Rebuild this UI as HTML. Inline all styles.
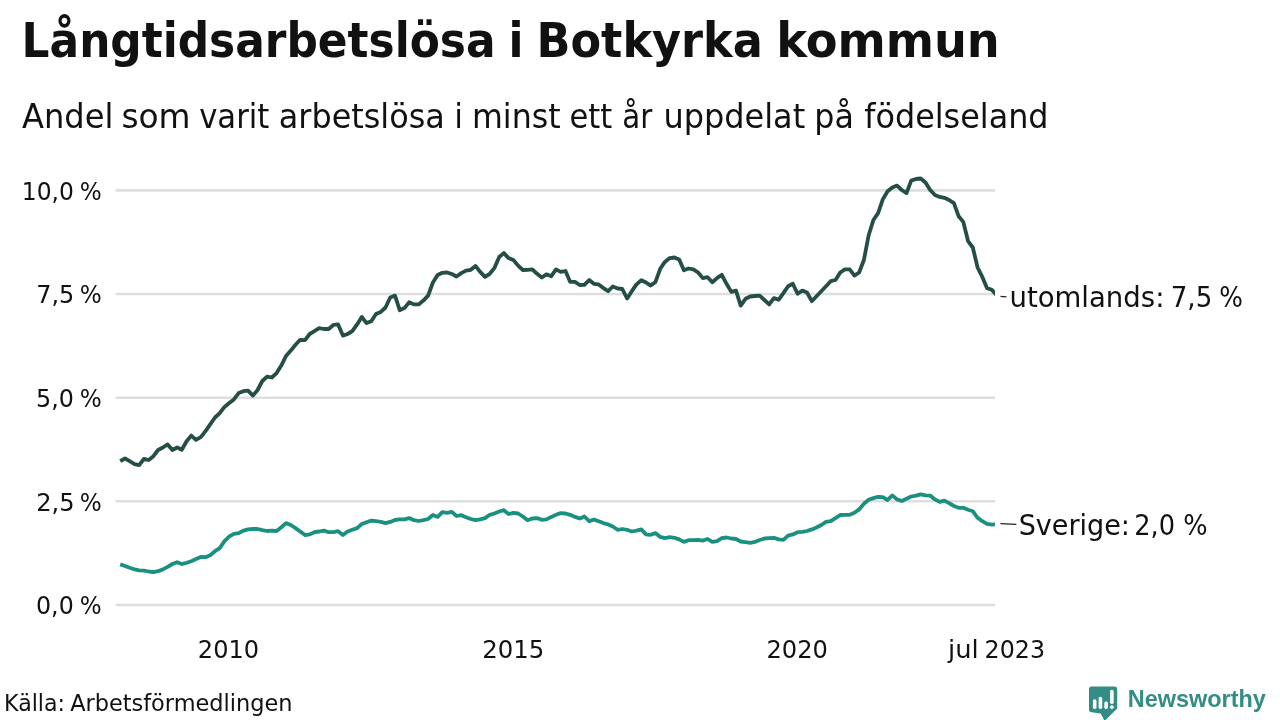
<!DOCTYPE html>
<html lang="sv">
<head>
<meta charset="utf-8">
<title>Långtidsarbetslösa i Botkyrka kommun</title>
<style>
html,body{margin:0;padding:0;background:#fff;}
body{width:1280px;height:720px;overflow:hidden;}
svg{display:block;}
text{font-family:"DejaVu Sans", "Liberation Sans", sans-serif;fill:#111;}
.title{font-family:"DejaVu Sans Condensed", "DejaVu Sans", "Liberation Sans", sans-serif;font-weight:700;font-size:47.5px;}
.sub{font-size:33px;}
.ax{font-size:24px;}
.lab{font-size:28px;}
.src{font-size:23px;}
.logo{font-family:"Liberation Sans", sans-serif;font-weight:700;font-size:24px;fill:#348d84;}
.grid line{stroke:#dedede;stroke-width:2.6;}
</style>
</head>
<body>
<svg width="1280" height="720" viewBox="0 0 1280 720">
<rect width="1280" height="720" fill="#ffffff"/>
<text class="title" y="57"><tspan x="21.64" textLength="473.84" lengthAdjust="spacingAndGlyphs">Långtidsarbetslösa</tspan> <tspan x="508.45" textLength="14.96" lengthAdjust="spacingAndGlyphs">i</tspan> <tspan x="536.56" textLength="226.24" lengthAdjust="spacingAndGlyphs">Botkyrka</tspan> <tspan x="776.25" textLength="223.54" lengthAdjust="spacingAndGlyphs">kommun</tspan></text>
<text class="sub" y="127.5"><tspan x="21.96" textLength="91.42" lengthAdjust="spacingAndGlyphs">Andel</tspan> <tspan x="121.4" textLength="69.2" lengthAdjust="spacingAndGlyphs">som</tspan> <tspan x="199.21" textLength="70.18" lengthAdjust="spacingAndGlyphs">varit</tspan> <tspan x="278.83" textLength="166.0" lengthAdjust="spacingAndGlyphs">arbetslösa</tspan> <tspan x="454.21" textLength="8.72" lengthAdjust="spacingAndGlyphs">i</tspan> <tspan x="471.98" textLength="88.7" lengthAdjust="spacingAndGlyphs">minst</tspan> <tspan x="569.39" textLength="42.76" lengthAdjust="spacingAndGlyphs">ett</tspan> <tspan x="622.19" textLength="30.03" lengthAdjust="spacingAndGlyphs">år</tspan> <tspan x="663.45" textLength="141.8" lengthAdjust="spacingAndGlyphs">uppdelat</tspan> <tspan x="814.22" textLength="39.62" lengthAdjust="spacingAndGlyphs">på</tspan> <tspan x="864.28" textLength="184.31" lengthAdjust="spacingAndGlyphs">födelseland</tspan></text>
<g class="grid">
<line x1="115.6" x2="995" y1="190.4" y2="190.4"/>
<line x1="115.6" x2="995" y1="294" y2="294"/>
<line x1="115.6" x2="995" y1="397.8" y2="397.8"/>
<line x1="115.6" x2="995" y1="501.3" y2="501.3"/>
<line x1="115.6" x2="995" y1="605" y2="605"/>
</g>
<text class="ax" y="199.6"><tspan x="21.84" textLength="52.11" lengthAdjust="spacingAndGlyphs">10,0</tspan> <tspan x="79.69" textLength="21.99" lengthAdjust="spacingAndGlyphs">%</tspan></text>
<text class="ax" y="303.3"><tspan x="36.25" textLength="38.06" lengthAdjust="spacingAndGlyphs">7,5</tspan> <tspan x="79.69" textLength="21.99" lengthAdjust="spacingAndGlyphs">%</tspan></text>
<text class="ax" y="407"><tspan x="36.12" textLength="37.88" lengthAdjust="spacingAndGlyphs">5,0</tspan> <tspan x="79.69" textLength="21.99" lengthAdjust="spacingAndGlyphs">%</tspan></text>
<text class="ax" y="510.6"><tspan x="36.15" textLength="38.38" lengthAdjust="spacingAndGlyphs">2,5</tspan> <tspan x="79.69" textLength="21.99" lengthAdjust="spacingAndGlyphs">%</tspan></text>
<text class="ax" y="613.8"><tspan x="36.04" textLength="37.68" lengthAdjust="spacingAndGlyphs">0,0</tspan> <tspan x="79.81" textLength="21.88" lengthAdjust="spacingAndGlyphs">%</tspan></text>
<text class="ax" y="657.5"><tspan x="197.82" textLength="61.28" lengthAdjust="spacingAndGlyphs">2010</tspan></text>
<text class="ax" y="657.5"><tspan x="482.25" textLength="62.01" lengthAdjust="spacingAndGlyphs">2015</tspan></text>
<text class="ax" y="657.5"><tspan x="766.5" textLength="61.42" lengthAdjust="spacingAndGlyphs">2020</tspan></text>
<text class="ax" y="657.5"><tspan x="948.04" textLength="30.64" lengthAdjust="spacingAndGlyphs">jul</tspan> <tspan x="984.59" textLength="60.42" lengthAdjust="spacingAndGlyphs">2023</tspan></text>
<clipPath id="pc"><rect x="100" y="150" width="895.1" height="480"/></clipPath>
<g clip-path="url(#pc)">
<polyline fill="none" stroke="#1a9080" stroke-width="3.8" stroke-linejoin="round" stroke-linecap="butt" points="120.2,564.4 125.0,566.0 129.7,567.8 134.5,569.4 139.2,570.4 143.9,570.6 148.7,571.5 153.4,572.1 158.1,571.2 162.9,569.4 167.6,566.9 172.4,564.0 177.1,562.2 181.8,564.0 186.6,562.8 191.3,561.2 196.0,559.0 200.8,556.9 205.5,557.2 210.2,555.2 215.0,551.2 219.7,548.1 224.5,541.2 229.2,536.5 233.9,533.8 238.7,533.1 243.4,530.6 248.1,529.4 252.9,529.0 257.6,529.0 262.3,530.2 267.1,531.0 271.8,530.6 276.6,531.0 281.3,527.2 286.0,523.1 290.8,525.0 295.5,528.1 300.2,531.5 305.0,535.0 309.7,534.4 314.4,532.2 319.2,531.5 323.9,530.6 328.7,532.2 333.4,532.2 338.1,531.2 342.9,535.0 347.6,531.5 352.3,529.8 357.1,528.1 361.8,524.0 366.5,522.2 371.3,520.6 376.0,521.2 380.8,521.9 385.5,523.1 390.2,521.9 395.0,520.0 399.7,519.4 404.4,519.4 409.2,518.1 413.9,520.2 418.6,521.0 423.4,520.2 428.1,519.0 432.9,515.0 437.6,516.9 442.3,512.2 447.1,512.8 451.8,511.9 456.5,516.0 461.3,515.2 466.0,517.2 470.8,519.0 475.5,520.2 480.2,519.4 485.0,518.1 489.7,514.8 494.4,513.5 499.2,511.5 503.9,510.2 508.6,514.0 513.4,512.8 518.1,513.5 522.9,516.5 527.6,520.2 532.3,518.5 537.1,518.1 541.8,519.8 546.5,519.4 551.3,516.9 556.0,514.8 560.7,513.1 565.5,513.5 570.2,514.8 575.0,516.9 579.7,518.5 584.4,516.5 589.2,521.2 593.9,519.4 598.6,521.2 603.4,523.1 608.1,524.4 612.8,526.5 617.6,529.8 622.3,529.0 627.1,529.8 631.8,531.5 636.5,530.6 641.3,529.4 646.0,534.4 650.7,534.8 655.5,533.1 660.2,536.9 664.9,538.1 669.7,537.2 674.4,537.8 679.2,539.4 683.9,541.9 688.6,540.2 693.4,540.2 698.1,539.8 702.8,540.6 707.6,539.0 712.3,541.9 717.0,541.2 721.8,538.1 726.5,537.5 731.3,538.5 736.0,539.0 740.7,541.5 745.5,542.2 750.2,542.8 754.9,541.9 759.7,540.0 764.4,538.5 769.2,538.1 773.9,537.8 778.6,539.4 783.4,539.8 788.1,535.6 792.8,534.4 797.6,532.2 802.3,531.9 807.0,531.0 811.8,529.4 816.5,527.5 821.3,525.0 826.0,521.9 830.7,521.2 835.5,518.1 840.2,515.0 844.9,514.8 849.7,514.8 854.4,512.8 859.1,509.4 863.9,503.8 868.6,499.8 873.4,498.1 878.1,496.9 882.8,497.2 887.6,500.0 892.3,495.4 897.0,499.4 901.8,501.0 906.5,498.8 911.2,496.5 916.0,495.6 920.7,494.4 925.5,495.4 930.2,495.6 934.9,499.4 939.7,501.9 944.4,500.6 949.1,503.1 953.9,506.0 958.6,507.8 963.3,507.8 968.1,509.8 972.8,511.2 977.6,517.8 982.3,521.2 987.0,523.8 991.8,524.6 996.5,524.4"/>
<polyline fill="none" stroke="#244e46" stroke-width="3.8" stroke-linejoin="round" stroke-linecap="butt" points="120.2,461.2 125.0,458.5 129.7,461.2 134.5,464.1 139.2,465.2 143.9,458.8 148.7,460.0 153.4,456.2 158.1,450.0 162.9,447.5 167.6,444.4 172.4,450.0 177.1,447.5 181.8,449.8 186.6,441.2 191.3,435.6 196.0,439.8 200.8,437.2 205.5,431.2 210.2,424.4 215.0,417.5 219.7,413.1 224.5,406.9 229.2,403.1 233.9,399.4 238.7,393.1 243.4,391.2 248.1,390.6 252.9,395.6 257.6,390.0 262.3,381.0 267.1,376.6 271.8,377.5 276.6,373.1 281.3,365.6 286.0,356.0 290.8,350.6 295.5,344.8 300.2,339.8 305.0,340.2 309.7,334.0 314.4,331.2 319.2,328.2 323.9,329.0 328.7,329.0 333.4,324.8 338.1,324.4 342.9,335.6 347.6,334.0 352.3,331.2 357.1,324.4 361.8,316.9 366.5,323.1 371.3,321.2 376.0,314.0 380.8,311.9 385.5,307.5 390.2,297.5 395.0,295.6 399.7,310.2 404.4,308.1 409.2,302.2 413.9,304.4 418.6,304.4 423.4,300.6 428.1,295.6 432.9,282.5 437.6,275.0 442.3,272.8 447.1,272.5 451.8,274.0 456.5,276.5 461.3,273.1 466.0,270.6 470.8,269.8 475.5,266.0 480.2,271.9 485.0,276.9 489.7,273.8 494.4,268.1 499.2,256.9 503.9,253.1 508.6,258.1 513.4,260.0 518.1,265.6 522.9,270.0 527.6,269.8 532.3,269.4 537.1,273.8 541.8,277.5 546.5,274.4 551.3,276.2 556.0,269.4 560.7,271.9 565.5,271.0 570.2,281.9 575.0,281.9 579.7,285.0 584.4,284.8 589.2,280.0 593.9,283.8 598.6,284.4 603.4,288.1 608.1,291.2 612.8,286.5 617.6,288.5 622.3,289.0 627.1,298.5 631.8,291.2 636.5,284.4 641.3,280.2 646.0,282.5 650.7,285.6 655.5,281.9 660.2,268.8 664.9,261.9 669.7,258.1 674.4,257.5 679.2,259.4 683.9,270.2 688.6,268.5 693.4,269.4 698.1,272.5 702.8,278.1 707.6,277.2 712.3,282.2 717.0,278.1 721.8,274.8 726.5,283.8 731.3,291.9 736.0,290.6 740.7,305.6 745.5,298.8 750.2,296.5 754.9,296.0 759.7,295.6 764.4,300.0 769.2,304.4 773.9,298.1 778.6,299.8 783.4,293.1 788.1,286.2 792.8,283.8 797.6,293.8 802.3,290.6 807.0,292.5 811.8,301.2 816.5,296.2 821.3,291.2 826.0,286.2 830.7,281.2 835.5,280.0 840.2,272.5 844.9,269.4 849.7,269.4 854.4,275.6 859.1,272.5 863.9,260.0 868.6,235.5 873.4,220.0 878.1,213.1 882.8,199.4 887.6,191.2 892.3,187.5 897.0,185.6 901.8,190.0 906.5,193.1 911.2,180.6 916.0,179.0 920.7,178.5 925.5,182.5 930.2,190.0 934.9,195.0 939.7,196.9 944.4,197.8 949.1,200.0 953.9,203.1 958.6,216.2 963.3,221.9 968.1,241.2 972.8,247.5 977.6,267.5 982.3,276.9 987.0,288.1 991.8,289.8 996.5,295.0"/>
</g>
<line x1="1000.5" y1="296.3" x2="1006.5" y2="296.8" stroke="#222" stroke-width="1.2"/>
<line x1="1000.5" y1="523.6" x2="1016.3" y2="524.4" stroke="#222" stroke-width="1.2"/>
<text class="lab" y="307.2"><tspan x="1009.46" textLength="154.95" lengthAdjust="spacingAndGlyphs">utomlands:</tspan> <tspan x="1170.68" textLength="41.6" lengthAdjust="spacingAndGlyphs">7,5</tspan> <tspan x="1219.32" textLength="23.64" lengthAdjust="spacingAndGlyphs">%</tspan></text>
<text class="lab" y="535"><tspan x="1018.65" textLength="111.32" lengthAdjust="spacingAndGlyphs">Sverige:</tspan> <tspan x="1134.18" textLength="40.79" lengthAdjust="spacingAndGlyphs">2,0</tspan> <tspan x="1183.21" textLength="24.31" lengthAdjust="spacingAndGlyphs">%</tspan></text>
<text class="src" y="710.8"><tspan x="4.08" textLength="60.94" lengthAdjust="spacingAndGlyphs">Källa:</tspan> <tspan x="70.15" textLength="222.35" lengthAdjust="spacingAndGlyphs">Arbetsförmedlingen</tspan></text>
<g>
<path d="M1092 686.4 H1114.4 a2.8 2.8 0 0 1 2.8 2.8 V708.6 L1104.6 721 L1100.7 713.6 L1091.6 712.2 a2.8 2.8 0 0 1 -2.6 -2.8 V689.2 a2.8 2.8 0 0 1 3 -2.8 z" fill="#348d84"/>
<rect x="1092.9" y="699.2" width="3.6" height="9.7" rx="1.7" fill="#fff"/>
<rect x="1098.6" y="696.7" width="3.6" height="12.2" rx="1.7" fill="#fff"/>
<rect x="1104.3" y="701.4" width="3.6" height="7.5" rx="1.7" fill="#fff"/>
<rect x="1110.1" y="689.7" width="3.6" height="14.2" rx="1.7" fill="#fff"/>
<rect x="1110.1" y="705.3" width="3.6" height="3.6" rx="1.7" fill="#fff"/>
</g>
<text class="logo" x="1127.8" y="707" textLength="138" lengthAdjust="spacingAndGlyphs">Newsworthy</text>
</svg>
</body>
</html>
